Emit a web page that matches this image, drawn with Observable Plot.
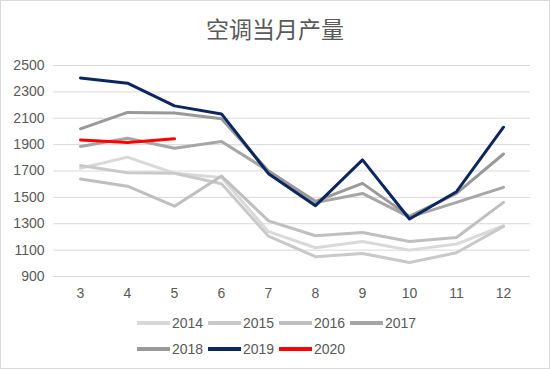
<!DOCTYPE html>
<html>
<head>
<meta charset="utf-8">
<script src="https://cdn.jsdelivr.net/npm/d3@7"></script>
<script src="https://cdn.jsdelivr.net/npm/@observablehq/plot@0.6"></script>
<style>
  html, body { margin: 0; padding: 0; background: #fff; }
  #frame { position: relative; width: 548px; height: 367px; border: 1px solid #d9d9d9; overflow: hidden; font-family: "Liberation Sans", Arial, sans-serif; color: #595959; }
  #title { position: absolute; top: 14px; left: 0; width: 100%; text-align: center; font-family: "Noto Sans CJK SC", sans-serif; font-size: 23px; line-height: 26px; color: #595959; }
  #chart { position: absolute; top: 50px; left: 0; }
  #legend { position: absolute; left: 136px; top: 309px; }
  .row { display: flex; height: 26px; align-items: center; }
  .item { display: flex; align-items: center; width: 71px; }
  .sw { width: 33px; height: 4px; margin-right: 2px; }
  .lbl { font-size: 14px; color: #595959; }
</style>
</head>
<body>
<div id="frame">
  <div id="title">空调当月产量</div>
  <div id="chart"></div>
  <div id="legend"></div>
</div>
<script>
const months = [3, 4, 5, 6, 7, 8, 9, 10, 11, 12];
const years = ["2014", "2015", "2016", "2017", "2018", "2019", "2020"];
const colors = ["#d9d9d9", "#c9c9c9", "#bfbfbf", "#a6a6a6", "#999999", "#0c2660", "#ff0000"];
const yTicks = [900, 1100, 1300, 1500, 1700, 1900, 2100, 2300, 2500];

const v2014 = [1721, 1805, 1683, 1650, 1240, 1118, 1166, 1100, 1146, 1285];
const v2015 = [1742, 1686, 1683, 1603, 1206, 1050, 1075, 1006, 1080, 1280];
const v2016 = [1640, 1585, 1433, 1662, 1322, 1209, 1234, 1166, 1196, 1462];
const v2017 = [1886, 1949, 1873, 1924, 1700, 1460, 1530, 1350, 1462, 1576];
const v2018 = [2020, 2144, 2140, 2096, 1700, 1470, 1606, 1356, 1530, 1829];
const v2019 = [2406, 2366, 2194, 2133, 1680, 1437, 1784, 1336, 1543, 2032];
const v2020 = [1936, 1917, 1944];

const seriesValues = [v2014, v2015, v2016, v2017, v2018, v2019, v2020];
const data = [];
seriesValues.forEach((vals, i) => {
  vals.forEach((v, j) => data.push({year: years[i], month: months[j], value: v}));
});

const chart = Plot.plot({
  width: 548,
  height: 250,
  marginLeft: 52,
  marginRight: 19,
  marginTop: 14,
  marginBottom: 25,
  style: { fontFamily: "'Liberation Sans', Arial, sans-serif", fontSize: "14px", color: "#595959", background: "white" },
  x: { type: "point", domain: months, padding: 0.5, label: null },
  y: { domain: [900, 2500], ticks: yTicks, label: null },
  color: { domain: years, range: colors },
  marks: [
    Plot.gridY(yTicks, { stroke: "#d9d9d9", strokeOpacity: 1, strokeWidth: 1 }),
    Plot.axisY(yTicks, { tickSize: 0, tickPadding: 9, fontSize: 14, fill: "#595959", tickFormat: d => String(d) }),
    Plot.axisX(months, { tickSize: 0, tickPadding: 12, fontSize: 14, fill: "#595959", tickFormat: d => String(d) }),
    Plot.line(data, { x: "month", y: "value", z: "year", stroke: "year", strokeWidth: 3, strokeLinejoin: "round", strokeLinecap: "round" })
  ]
});
document.getElementById("chart").appendChild(chart);

const legend = document.getElementById("legend");
const rows = [years.slice(0, 4), years.slice(4)];
rows.forEach(r => {
  const row = document.createElement("div");
  row.className = "row";
  r.forEach(y => {
    const item = document.createElement("div");
    item.className = "item";
    const sw = document.createElement("div");
    sw.className = "sw";
    sw.style.background = colors[years.indexOf(y)];
    const lbl = document.createElement("span");
    lbl.className = "lbl";
    lbl.textContent = y;
    item.appendChild(sw);
    item.appendChild(lbl);
    row.appendChild(item);
  });
  legend.appendChild(row);
});
</script>
</body>
</html>
